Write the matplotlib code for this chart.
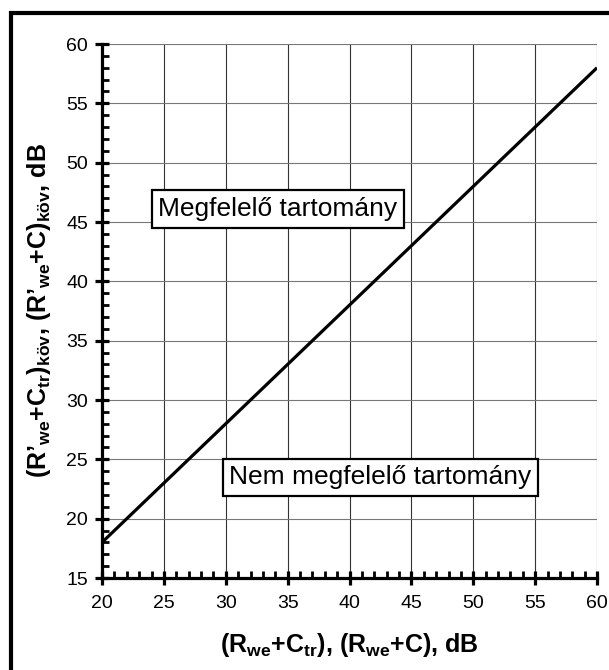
import matplotlib.pyplot as plt
from matplotlib.patches import Rectangle
from matplotlib.ticker import MultipleLocator

plt.rcParams["font.family"] = ["Liberation Sans", "DejaVu Sans"]
plt.rcParams["mathtext.fontset"] = "custom"
plt.rcParams["mathtext.rm"] = "Liberation Sans"
plt.rcParams["mathtext.bf"] = "Liberation Sans:bold"
plt.rcParams["mathtext.it"] = "Liberation Sans:italic"

# -------------------------------------------------------------------
# DATA
# -------------------------------------------------------------------
x_vals = [20, 60]          # (Rwe+Ctr), (Rwe+C), dB
y_vals = [18, 58]          # required value, dB
x_ticks = [20, 25, 30, 35, 40, 45, 50, 55, 60]
y_ticks = [15, 20, 25, 30, 35, 40, 45, 50, 55, 60]
label_ok = "Megfelelő tartomány"
label_bad = "Nem megfelelő tartomány"
pos_ok = (34.2, 46.1)
pos_bad = (42.5, 23.5)

fig = plt.figure(figsize=(6.09, 6.70), dpi=100)
ax = fig.add_axes([0.1675, 0.1373, 0.8128, 0.797])

# outer frame (right/bottom edges fall outside the picture)
fig.patches.append(Rectangle((11 / 609, -0.05), 1.1, 1 - 13 / 670 + 0.05,
                             transform=fig.transFigure, fill=False,
                             edgecolor="black", linewidth=3, zorder=0))

ax.plot(x_vals, y_vals, color="black", linewidth=2.3, zorder=3,
        solid_capstyle="butt")

ax.set_xlim(x_ticks[0], x_ticks[-1])
ax.set_ylim(y_ticks[0], y_ticks[-1])
ax.set_xticks(x_ticks)
ax.set_yticks(y_ticks)
ax.xaxis.set_minor_locator(MultipleLocator(1))
ax.yaxis.set_minor_locator(MultipleLocator(1))

ax.grid(True, which="major", axis="x", color="#333333", linewidth=0.8)
ax.grid(True, which="major", axis="y", color="#777777", linewidth=0.8)
ax.set_axisbelow(True)

for side in ["top", "right"]:
    ax.spines[side].set_visible(False)
for side in ["left", "bottom"]:
    ax.spines[side].set_linewidth(2.3)

ax.tick_params(which="major", direction="inout", length=10, width=2.3,
               labelsize=14, pad=5)
ax.tick_params(which="minor", direction="in", length=5, width=2)
ax.tick_params(axis="x", which="major", pad=7)

box = dict(boxstyle="square,pad=0.25", facecolor="white",
           edgecolor="black", linewidth=1.6)
ax.text(*pos_ok, label_ok, fontsize=19, ha="center", va="center",
        bbox=box, zorder=4)
ax.text(*pos_bad, label_bad, fontsize=19, ha="center", va="center",
        bbox=box, zorder=4)

ax.set_xlabel(r"$\mathbf{(R_{we}{+}C_{tr}){,}\ (R_{we}{+}C){,}\ dB}$",
              fontsize=18)
ax.set_ylabel(r"$\mathbf{(R’_{we}{+}C_{tr})_{köv}{,}\ (R’_{we}{+}C)_{köv}{,}\ dB}$",
              fontsize=18)
ax.xaxis.set_label_coords(0.5, -0.1)
ax.yaxis.set_label_coords(-0.1, 0.5)

fig.savefig("out.png", dpi=100)
